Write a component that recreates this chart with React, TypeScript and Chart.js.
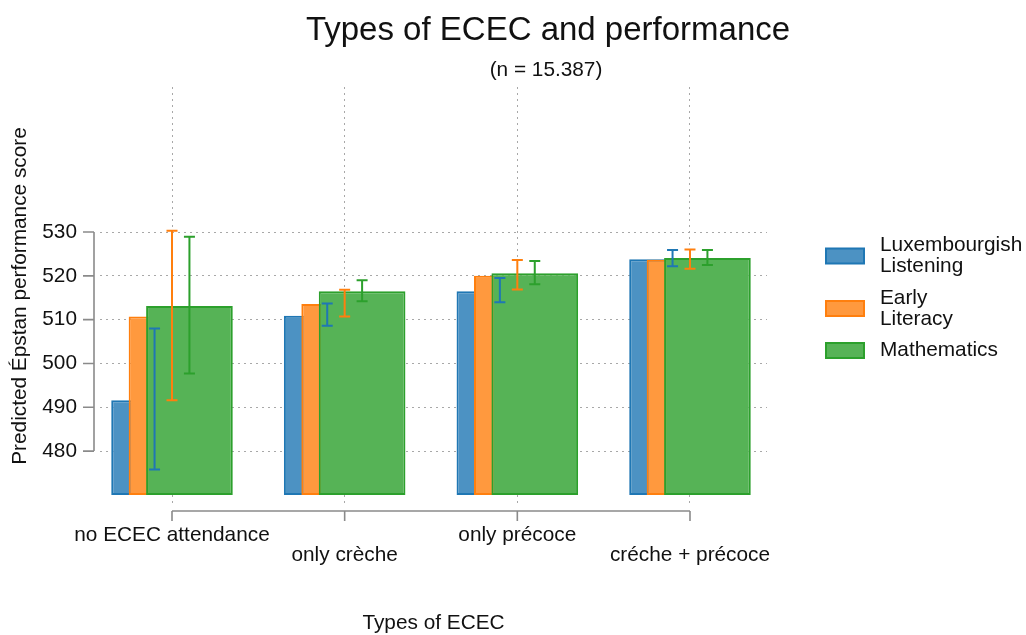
import React, { useEffect, useRef } from 'react';
import { Chart, registerables } from 'chart.js';

Chart.register(...registerables);

// ---------- data ----------
const CATEGORIES = ['no ECEC attendance', 'only crèche', 'only précoce', 'créche + précoce'];
const SERIES_NAMES = [['Luxembourgish', 'Listening'], ['Early', 'Literacy'], ['Mathematics']];

const LUX = [491.6, 510.9, 516.5, 523.8];
const LUX_LO = [475.8, 508.6, 514.0, 522.2];
const LUX_HI = [508.0, 513.7, 519.5, 525.9];

const LIT = [510.7, 513.6, 520.0, 523.7];
const LIT_LO = [491.6, 510.7, 516.9, 521.6];
const LIT_HI = [530.3, 516.8, 523.6, 526.0];

const MATH = [513.1, 516.5, 520.6, 524.1];
const MATH_LO = [497.7, 514.2, 518.1, 522.5];
const MATH_HI = [528.9, 519.0, 523.4, 525.9];

const Y_TICKS = [480, 490, 500, 510, 520, 530];

const TITLE = 'Types of ECEC and performance';
const SUBTITLE = '(n = 15.387)';
const X_TITLE = 'Types of ECEC';
const Y_TITLE = 'Predicted Épstan performance score';

// ---------- scale / style settings ----------
const Y_MIN = 467.7;
const Y_MAX = 563.1;
const BAR_BASE = 470;
const X_MIN = -0.417;
const X_MAX = 3.446;
const SERIES_OFFSET = 0.101; // category units between series centres
const BAR_WIDTH = 0.502; // category units

const BORDERS = ['#1f77b4', '#ff7f0e', '#2ca02c'];
const FILLS = ['#4c92c3', '#ff993e', '#56b356'];
const FONT = '"Liberation Sans", Arial, Helvetica, sans-serif';
const FS = 20.8;
const GRID_COLOR = '#a8a8a8';
const AXIS_COLOR = '#8a8a8a';
const TEXT_COLOR = '#111111';

const SERIES = [
  { name: SERIES_NAMES[0], values: LUX, lo: LUX_LO, hi: LUX_HI },
  { name: SERIES_NAMES[1], values: LIT, lo: LIT_LO, hi: LIT_HI },
  { name: SERIES_NAMES[2], values: MATH, lo: MATH_LO, hi: MATH_HI },
];

const seriesOffset = (d: number) => (d - 1) * SERIES_OFFSET;

const errorBarsPlugin = {
  id: 'errorBars',
  afterDatasetsDraw(chart: any) {
    const { ctx } = chart;
    const xs = chart.scales.x;
    const ys = chart.scales.y;
    ctx.save();
    ctx.lineWidth = 2;
    SERIES.forEach((s, d) => {
      ctx.strokeStyle = BORDERS[d];
      s.lo.forEach((lo, i) => {
        const x = xs.getPixelForValue(i + seriesOffset(d));
        const y1 = ys.getPixelForValue(lo);
        const y2 = ys.getPixelForValue(s.hi[i]);
        ctx.beginPath();
        ctx.moveTo(x, y1);
        ctx.lineTo(x, y2);
        ctx.moveTo(x - 5.5, y1);
        ctx.lineTo(x + 5.5, y1);
        ctx.moveTo(x - 5.5, y2);
        ctx.lineTo(x + 5.5, y2);
        ctx.stroke();
      });
    });
    ctx.restore();
  },
};

const rangeFramePlugin = {
  id: 'rangeFrame',
  afterDraw(chart: any) {
    const { ctx, chartArea } = chart;
    const xs = chart.scales.x;
    const ys = chart.scales.y;
    ctx.save();
    ctx.strokeStyle = AXIS_COLOR;
    ctx.lineWidth = 1.6;
    // y axis
    const ax = chartArea.left - 6;
    const yTop = ys.getPixelForValue(Y_TICKS[Y_TICKS.length - 1]);
    const yBot = ys.getPixelForValue(Y_TICKS[0]);
    ctx.beginPath();
    ctx.moveTo(ax, yTop);
    ctx.lineTo(ax, yBot);
    Y_TICKS.forEach((t) => {
      const y = ys.getPixelForValue(t);
      ctx.moveTo(ax, y);
      ctx.lineTo(ax - 11, y);
    });
    ctx.stroke();
    // x axis
    const ay = chartArea.bottom + 6;
    const xL = xs.getPixelForValue(0);
    const xR = xs.getPixelForValue(CATEGORIES.length - 1);
    ctx.beginPath();
    ctx.moveTo(xL, ay);
    ctx.lineTo(xR, ay);
    CATEGORIES.forEach((_, i) => {
      const x = xs.getPixelForValue(i);
      ctx.moveTo(x, ay);
      ctx.lineTo(x, ay + 10);
    });
    ctx.stroke();
    ctx.restore();
  },
};

const titlePlugin = {
  id: 'customTitle',
  afterDraw(chart: any) {
    const { ctx } = chart;
    ctx.save();
    ctx.fillStyle = TEXT_COLOR;
    ctx.textAlign = 'center';
    ctx.textBaseline = 'alphabetic';
    ctx.font = `33px ${FONT}`;
    ctx.fillText(TITLE, 548, 40);
    ctx.font = `${FS}px ${FONT}`;
    ctx.fillText(SUBTITLE, 546, 75.5);
    ctx.restore();
  },
};

const legendPlugin = {
  id: 'customLegend',
  afterDraw(chart: any) {
    const { ctx, chartArea } = chart;
    const lh = 21;
    const gap = 10.5;
    const heights = SERIES.map((s) => s.name.length * lh);
    const total = heights.reduce((a, b) => a + b, 0) + gap * (SERIES.length - 1);
    let y = (chartArea.top + chartArea.bottom) / 2 - total / 2 + 2;
    const boxX = chartArea.right + 59;
    const textX = chartArea.right + 113;
    ctx.save();
    ctx.font = `${FS}px ${FONT}`;
    ctx.textAlign = 'left';
    ctx.textBaseline = 'middle';
    SERIES.forEach((s, d) => {
      const h = heights[d];
      const cy = y + h / 2;
      ctx.fillStyle = FILLS[d];
      ctx.strokeStyle = BORDERS[d];
      ctx.lineWidth = 2;
      ctx.fillRect(boxX, cy - 7.5, 38, 15);
      ctx.strokeRect(boxX, cy - 7.5, 38, 15);
      ctx.fillStyle = TEXT_COLOR;
      s.name.forEach((line, k) => {
        ctx.fillText(line, textX, cy - ((s.name.length - 1) * lh) / 2 + k * lh);
      });
      y += h + gap;
    });
    ctx.restore();
  },
};

export default function App() {
  const canvasRef = useRef<HTMLCanvasElement | null>(null);

  useEffect(() => {
    const canvas = canvasRef.current;
    if (!canvas) return;
    const chart = new Chart(canvas, {
      type: 'bar',
      data: {
        datasets: SERIES.map((s, d) => ({
          label: s.name.join(' '),
          data: s.values.map((v, i) => ({ x: i + seriesOffset(d), y: v })),
          backgroundColor: FILLS[d],
          borderColor: BORDERS[d],
          borderWidth: 2,
          borderSkipped: false,
          base: BAR_BASE,
          grouped: false,
          categoryPercentage: 1,
          barPercentage: BAR_WIDTH / SERIES_OFFSET,
          order: SERIES.length - 1 - d,
        })) as any,
      },
      options: {
        responsive: false,
        animation: false,
        devicePixelRatio: 1,
        layout: { padding: { top: 87, right: 259, left: 0, bottom: 0 } },
        plugins: {
          legend: { display: false },
          title: { display: false },
          tooltip: { enabled: false },
        },
        scales: {
          x: {
            type: 'linear',
            min: X_MIN,
            max: X_MAX,
            offset: false,
            afterBuildTicks: (axis: any) => {
              axis.ticks = CATEGORIES.map((_, i) => ({ value: i }));
            },
            afterFit: (axis: any) => {
              axis.height = 130;
            },
            grid: { color: GRID_COLOR, lineWidth: 1, drawTicks: false, offset: false },
            border: { display: false, dash: [2, 4] },
            ticks: {
              autoSkip: false,
              maxRotation: 0,
              minRotation: 0,
              padding: 20,
              color: TEXT_COLOR,
              font: { family: FONT, size: FS, lineHeight: 0.96 },
              callback: (value: any) => {
                const i = Math.round(Number(value));
                return i % 2 === 0 ? CATEGORIES[i] : ['', CATEGORIES[i]];
              },
            },
            title: {
              display: true,
              text: X_TITLE,
              color: TEXT_COLOR,
              font: { family: FONT, size: FS, lineHeight: 1 },
              padding: { top: 0, bottom: 1.6 },
            },
          },
          y: {
            type: 'linear',
            min: Y_MIN,
            max: Y_MAX,
            beginAtZero: false,
            afterBuildTicks: (axis: any) => {
              axis.ticks = Y_TICKS.map((v) => ({ value: v }));
            },
            afterFit: (axis: any) => {
              axis.width = 100;
            },
            grid: { color: GRID_COLOR, lineWidth: 1, drawTicks: false },
            border: { display: false, dash: [2, 4] },
            ticks: {
              padding: 23,
              color: TEXT_COLOR,
              font: { family: FONT, size: FS },
            },
            title: {
              display: true,
              text: Y_TITLE,
              color: TEXT_COLOR,
              font: { family: FONT, size: FS, lineHeight: 1 },
              padding: { top: 9.6, bottom: 0 },
            },
          },
        },
      } as any,
      plugins: [errorBarsPlugin, rangeFramePlugin, titlePlugin, legendPlugin],
    });
    return () => chart.destroy();
  }, []);

  return (
    <div style={{ position: 'fixed', left: 0, top: 0, width: 1026, height: 635, background: '#fff' }}>
      <canvas ref={canvasRef} width={1026} height={635} style={{ display: 'block' }} />
    </div>
  );
}
